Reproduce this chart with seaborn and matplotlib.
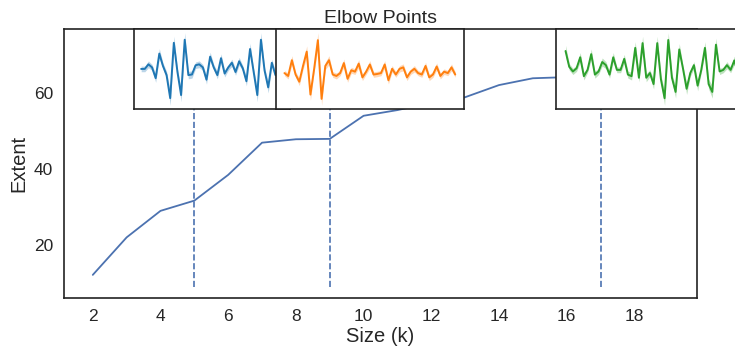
import matplotlib

matplotlib.use("Agg")

import matplotlib.pyplot as plt
import numpy as np
import seaborn as sns

# main curve
SIZES = [2, 3, 4, 5, 6, 7, 8, 9, 10, 11, 12, 13, 14, 15, 16, 17, 18, 19]
EXTENT = [12.1, 22.0, 29.0, 31.7, 38.5, 47.0, 47.9, 48.0, 54.1, 55.6,
          57.5, 59.0, 62.2, 64.0, 64.3, 64.8, 65.4, 66.0]
ELBOWS = [5, 9, 17]

# inset signals, one per elbow
SIGNAL_K5 = [12.0, 12.0, 13.5, 12.5, 9.0, 17.0, 13.0, 10.0, 2.5, 20.5,
             11.0, 3.5, 21.5, 10.0, 10.2, 13.2, 13.5, 12.5, 8.5, 16.0,
             12.5, 10.0, 15.5, 10.5, 12.5, 14.0, 11.0, 14.5, 12.2, 8.0,
             18.5, 11.0, 3.5, 21.5, 11.5, 6.0, 14.0, 10.0, 13.0, 12.0]
SIGNAL_K9 = [10.5, 9.5, 15.0, 10.0, 7.5, 13.0, 18.0, 3.0, 12.0, 22.0,
             1.5, 13.0, 15.0, 10.0, 9.5, 10.5, 14.0, 8.5, 11.5, 11.0,
             13.8, 9.0, 11.0, 13.5, 10.0, 10.2, 10.5, 13.5, 8.0, 12.0,
             10.0, 12.0, 12.5, 9.0, 11.0, 12.0, 10.5, 10.0, 13.0, 9.0,
             10.0, 12.8, 9.5, 11.0, 10.5, 12.5, 10.0]
SIGNAL_K17 = [18.0, 13.0, 11.5, 12.5, 16.0, 10.0, 12.0, 17.0, 10.5, 11.5,
              14.5, 13.5, 10.5, 16.0, 12.0, 12.0, 15.5, 10.5, 10.0, 19.0,
              9.5, 20.5, 9.5, 11.0, 7.5, 20.5, 9.0, 3.0, 21.5, 9.5,
              5.0, 18.5, 12.5, 6.0, 11.0, 13.5, 7.0, 12.0, 19.0, 7.5,
              5.0, 20.0, 11.5, 12.0, 13.5, 12.0, 15.0, 11.0, 13.0, 10.0,
              14.0, 12.0]

sns.set_theme(style="white")
plt.rcParams["font.family"] = ["Liberation Sans", "DejaVu Sans"]

fig = plt.figure(figsize=(7.35, 3.5), dpi=100)
ax = fig.add_axes([0.0871, 0.1486, 0.8612, 0.7685])

sns.lineplot(x=SIZES, y=EXTENT, ax=ax, color="#4C72B0", linewidth=1.3)
ax.vlines(ELBOWS, 9, 77, colors="#4C72B0", linestyles="--", linewidth=1.2)

ax.set_xlim(1.15, 19.85)
ax.set_ylim(6.0, 77.0)
ax.set_xticks(range(2, 20, 2))
ax.set_yticks([20, 40, 60])
ax.tick_params(labelsize=12.5, length=0)
ax.tick_params(axis="y", pad=8)
ax.tick_params(axis="x", pad=8)
ax.set_xlabel("Size (k)", fontsize=14.5, labelpad=2)
ax.set_ylabel("Extent", fontsize=14.5, labelpad=4)
ax.set_title("Elbow Points", fontsize=14, pad=4)
for spine in ax.spines.values():
    spine.set_color("#222222")
    spine.set_linewidth(1.2)

insets = [
    (SIGNAL_K5, "#1f77b4", 3.22, 4.6),
    (SIGNAL_K9, "#ff7f0e", 7.41, 5.55),
    (SIGNAL_K17, "#2ca02c", 15.69, 6.08),
]
for values, color, x0, width in insets:
    iax = ax.inset_axes([x0, 55.9, width, 77.0 - 55.9], transform=ax.transData)
    v = np.array(values)
    idx = np.arange(len(v))
    band = 0.9 + 0.15 * np.abs(v - np.median(v))
    iax.fill_between(idx, v - band, v + band, color=color, alpha=0.3, linewidth=0)
    sns.lineplot(x=idx, y=v, ax=iax, color=color, linewidth=1.4)
    iax.set_xticks([])
    iax.set_yticks([])
    iax.set_xlabel("")
    iax.set_ylabel("")
    iax.set_facecolor("white")
    for spine in iax.spines.values():
        spine.set_color("#222222")
        spine.set_linewidth(1.2)

fig.savefig("out.png", dpi=100)
